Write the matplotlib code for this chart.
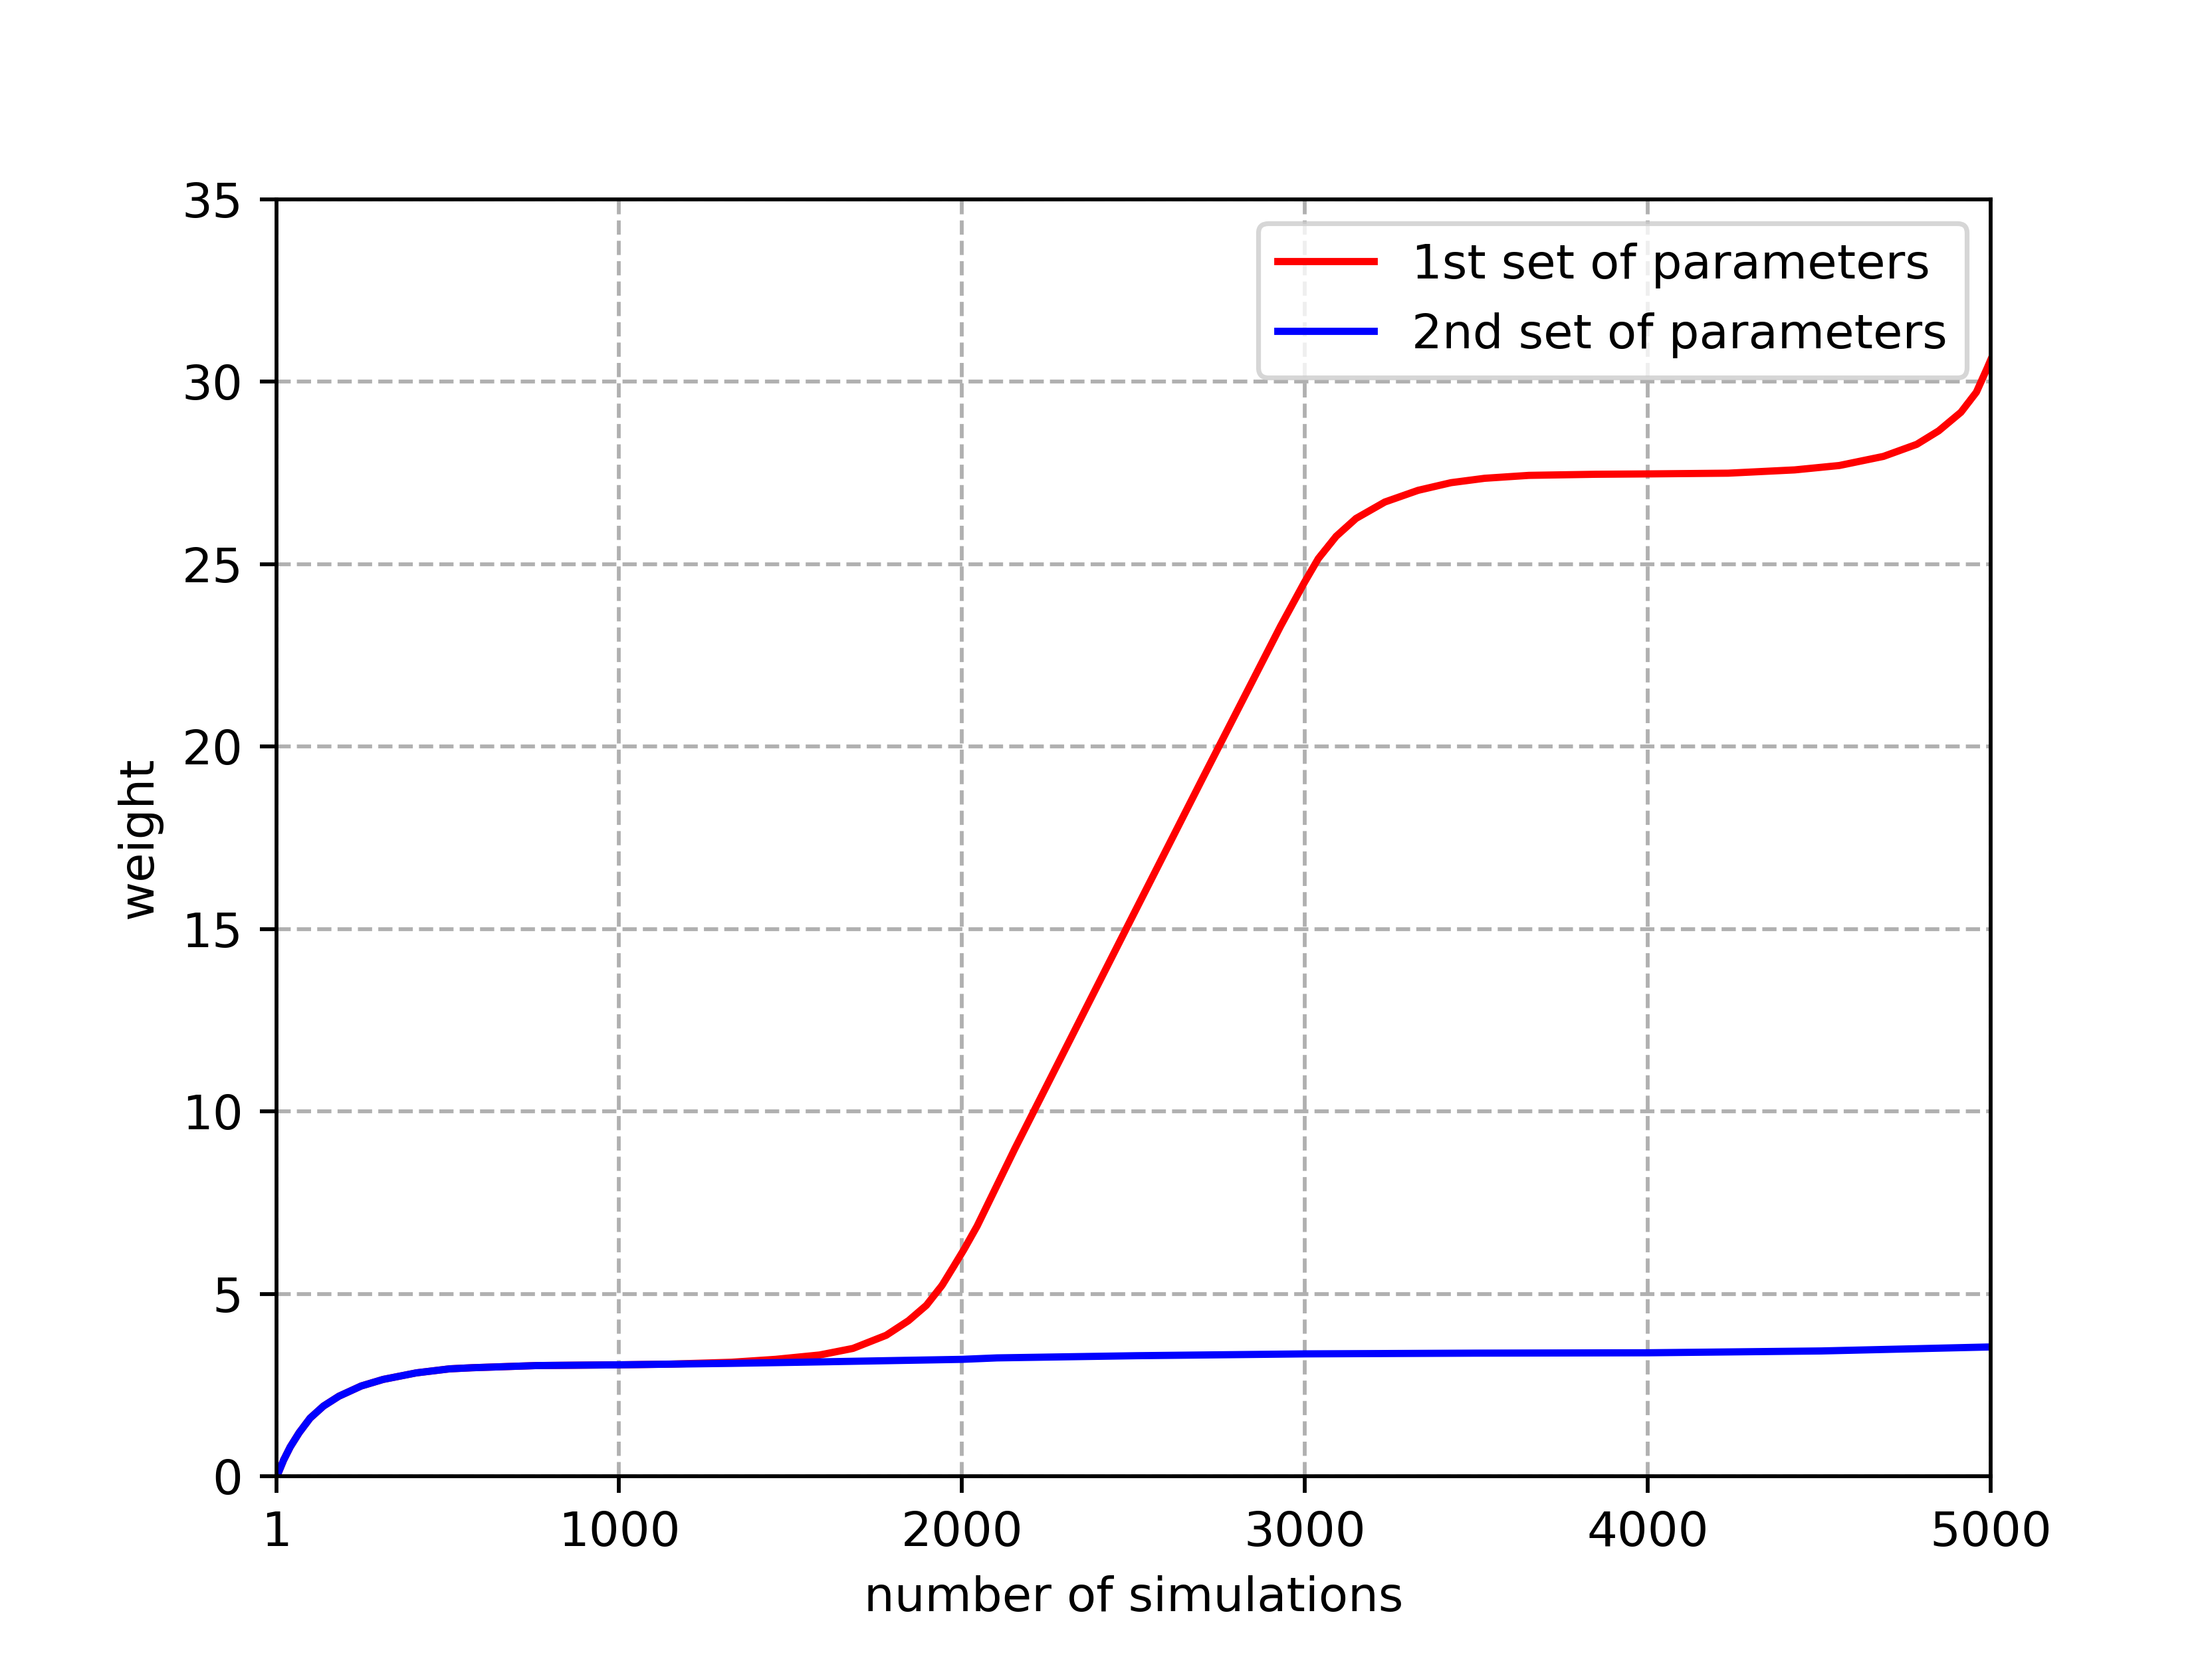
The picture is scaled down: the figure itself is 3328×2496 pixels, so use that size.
import matplotlib
matplotlib.use("Agg")
import matplotlib.pyplot as plt

# values
sims_1st = [1, 5.5, 21.7, 41, 67, 99, 138, 183, 248, 312, 409, 506, 571, 760, 1000, 1150,
            1327, 1456, 1585, 1682, 1779, 1844, 1896, 1942, 1974, 2005, 2044, 2154, 2500,
            2700, 2929, 2998, 3039, 3091, 3149, 3233, 3330, 3426, 3524, 3653, 3847, 4000,
            4234, 4428, 4558, 4687, 4784, 4848, 4913, 4958, 4990, 5000]
weight_1st = [0.0, 0.08, 0.45, 0.81, 1.2, 1.6, 1.93, 2.2, 2.48, 2.66, 2.84, 2.95, 2.98,
              3.04, 3.06, 3.08, 3.13, 3.21, 3.33, 3.51, 3.87, 4.27, 4.69, 5.24, 5.73, 6.21,
              6.86, 8.98, 15.4, 19.1, 23.3, 24.49, 25.15, 25.76, 26.25, 26.7, 27.02, 27.23,
              27.35, 27.43, 27.46, 27.47, 27.49, 27.58, 27.7, 27.95, 28.28, 28.65, 29.16,
              29.71, 30.38, 30.6]

sims_2nd = [1, 5.5, 21.7, 41, 67, 99, 138, 183, 248, 312, 409, 506, 571, 760, 1000, 1327,
            1520, 2000, 2102, 2509, 3000, 3500, 4000, 4506, 5000]
weight_2nd = [0.0, 0.08, 0.45, 0.81, 1.2, 1.6, 1.93, 2.2, 2.48, 2.66, 2.84, 2.95, 2.98,
              3.04, 3.06, 3.1, 3.13, 3.21, 3.25, 3.31, 3.36, 3.38, 3.39, 3.44, 3.55]

xtick_vals = [1, 1000, 2000, 3000, 4000, 5000]

fig, ax = plt.subplots(figsize=(6.4, 4.8))
ax.plot(sims_1st, weight_1st, color='red', label='1st set of parameters')
ax.plot(sims_2nd, weight_2nd, color='blue', label='2nd set of parameters')
ax.set_xlim(1, 5000)
ax.set_ylim(0, 35)
ax.set_xticks(xtick_vals)
ax.grid(linestyle='--')
ax.set_xlabel('number of simulations')
ax.set_ylabel('weight')
ax.legend(loc='upper right')
fig.savefig('out.png', dpi=520)
